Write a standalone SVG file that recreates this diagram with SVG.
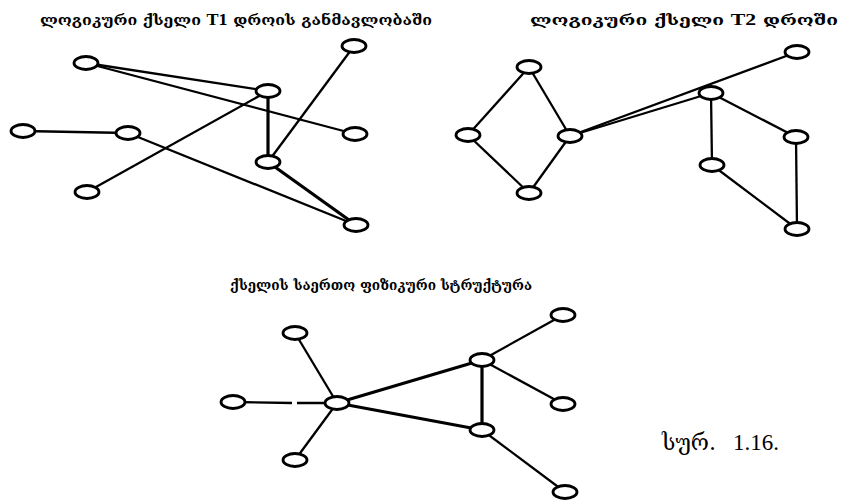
<svg xmlns="http://www.w3.org/2000/svg" width="849" height="504" viewBox="0 0 849 504">
<style>
.n{fill:#fff;stroke:#000;stroke-width:2.8}
.e line{stroke:#000;stroke-width:2.3}
.e .t{stroke-width:3.2}
.ttl{font-family:"DejaVu Serif","DejaVu Sans",serif;font-weight:bold;font-size:15px;fill:#000}
.lat{font-family:"Liberation Serif",serif;font-weight:bold;font-size:17px}
.cap{font-family:"DejaVu Serif","DejaVu Sans",serif;font-size:22px;fill:#000}
.num{font-family:"Liberation Serif",serif;font-size:23px;fill:#000}
</style>
<rect width="849" height="504" fill="#fff"/>
<g id="titles">
<text class="ttl" x="40" y="25" textLength="392" lengthAdjust="spacingAndGlyphs">ლოგიკური ქსელი <tspan class="lat">T1</tspan> დროის განმავლობაში</text>
<text class="ttl" x="530" y="25" textLength="308" lengthAdjust="spacingAndGlyphs">ლოგიკური ქსელი  <tspan class="lat">T2</tspan>  დროში</text>
<text class="ttl" x="230" y="290" textLength="302" lengthAdjust="spacingAndGlyphs">ქსელის საერთო ფიზიკური სტრუქტურა</text>
<text class="cap" x="662" y="450" textLength="54" lengthAdjust="spacingAndGlyphs">სურ.</text>
<text class="num" x="733" y="450">1.16.</text>
</g>
<g id="connectors" class="e">
<line x1="86" y1="63" x2="268" y2="91"/>
<line x1="86" y1="63" x2="355" y2="134"/>
<line x1="354" y1="46" x2="268" y2="162"/>
<line x1="23" y1="131" x2="128" y2="133"/>
<line x1="128" y1="133" x2="356" y2="225"/>
<line x1="87" y1="192" x2="268" y2="91"/>
<line class="t" x1="268" y1="91" x2="268" y2="162"/>
<line class="t" x1="268" y1="162" x2="356" y2="225"/>
<line x1="529" y1="67" x2="468" y2="135"/>
<line x1="529" y1="67" x2="570" y2="136"/>
<line x1="468" y1="135" x2="529" y2="193"/>
<line x1="570" y1="136" x2="529" y2="193"/>
<line x1="570" y1="136" x2="797" y2="52"/>
<line x1="570" y1="136" x2="711" y2="93"/>
<line x1="711" y1="93" x2="712" y2="165"/>
<line x1="711" y1="93" x2="796" y2="137"/>
<line x1="796" y1="137" x2="797" y2="229"/>
<line x1="712" y1="165" x2="797" y2="229"/>
<line x1="295" y1="333" x2="337" y2="403"/>
<line x1="233" y1="402" x2="292" y2="403"/>
<line x1="297" y1="403" x2="337" y2="403"/>
<line x1="295" y1="460" x2="337" y2="403"/>
<line class="t" x1="337" y1="403" x2="482" y2="360"/>
<line class="t" x1="337" y1="403" x2="482" y2="430"/>
<line class="t" x1="482" y1="360" x2="482" y2="430"/>
<line x1="482" y1="360" x2="563" y2="315"/>
<line x1="482" y1="360" x2="563" y2="404"/>
<line x1="482" y1="430" x2="565" y2="492"/>
</g>
<g id="n1"><ellipse class="n" cx="86" cy="63" rx="12" ry="6.5"/></g>
<g id="n2"><ellipse class="n" cx="268" cy="91" rx="12" ry="6.5"/></g>
<g id="n3"><ellipse class="n" cx="354" cy="46" rx="12" ry="6.5"/></g>
<g id="n4"><ellipse class="n" cx="23" cy="131" rx="12" ry="6.5"/></g>
<g id="n5"><ellipse class="n" cx="128" cy="133" rx="12" ry="6.5"/></g>
<g id="n6"><ellipse class="n" cx="355" cy="134" rx="12" ry="6.5"/></g>
<g id="n7"><ellipse class="n" cx="268" cy="162" rx="12" ry="6.5"/></g>
<g id="n8"><ellipse class="n" cx="87" cy="192" rx="12" ry="6.5"/></g>
<g id="n9"><ellipse class="n" cx="356" cy="225" rx="12" ry="6.5"/></g>
<g id="r1"><ellipse class="n" cx="529" cy="67" rx="12" ry="6.5"/></g>
<g id="r2"><ellipse class="n" cx="468" cy="135" rx="12" ry="6.5"/></g>
<g id="r3"><ellipse class="n" cx="570" cy="136" rx="12" ry="6.5"/></g>
<g id="r4"><ellipse class="n" cx="529" cy="193" rx="12" ry="6.5"/></g>
<g id="r5"><ellipse class="n" cx="797" cy="52" rx="12" ry="6.5"/></g>
<g id="r6"><ellipse class="n" cx="711" cy="93" rx="12" ry="6.5"/></g>
<g id="r7"><ellipse class="n" cx="796" cy="137" rx="12" ry="6.5"/></g>
<g id="r8"><ellipse class="n" cx="712" cy="165" rx="12" ry="6.5"/></g>
<g id="r9"><ellipse class="n" cx="797" cy="229" rx="12" ry="6.5"/></g>
<g id="b1"><ellipse class="n" cx="295" cy="333" rx="12" ry="6.5"/></g>
<g id="b2"><ellipse class="n" cx="563" cy="315" rx="12" ry="6.5"/></g>
<g id="b3"><ellipse class="n" cx="482" cy="360" rx="12" ry="6.5"/></g>
<g id="b4"><ellipse class="n" cx="233" cy="402" rx="12" ry="6.5"/></g>
<g id="b5"><ellipse class="n" cx="337" cy="403" rx="12" ry="6.5"/></g>
<g id="b6"><ellipse class="n" cx="563" cy="404" rx="12" ry="6.5"/></g>
<g id="b7"><ellipse class="n" cx="482" cy="430" rx="12" ry="6.5"/></g>
<g id="b8"><ellipse class="n" cx="295" cy="460" rx="12" ry="6.5"/></g>
<g id="b9"><ellipse class="n" cx="565" cy="492" rx="12" ry="6.5"/></g>
</svg>
